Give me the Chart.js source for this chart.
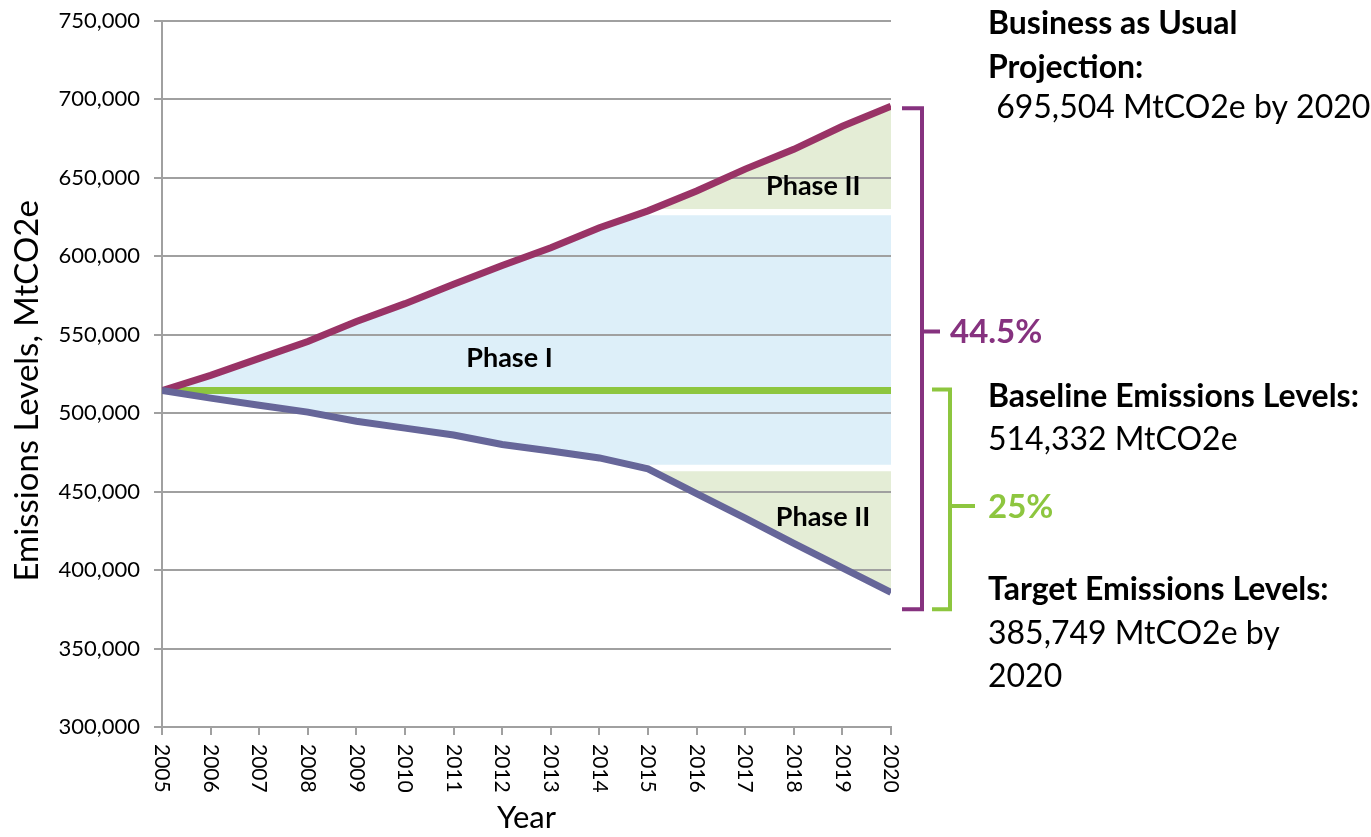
<!DOCTYPE html>
<html>
<head>
<meta charset="utf-8">
<script src="https://cdn.jsdelivr.net/npm/chart.js@4"></script>
<style>
  html, body { margin: 0; padding: 0; background: #fff; }
  #wrap { width: 1371px; height: 837px; }
</style>
</head>
<body>
<div id="wrap"><canvas id="grafico"></canvas></div>
<script>
// datos
const years = [2005, 2006, 2007, 2008, 2009, 2010, 2011, 2012, 2013, 2014, 2015, 2016, 2017, 2018, 2019, 2020];
const bau = [514332, 524000, 534800, 545600, 558300, 569700, 582000, 594000, 605300, 618000, 628800, 641500, 655400, 668000, 682700, 695504];
const target = [514332, 509500, 505000, 500600, 494800, 490400, 486000, 480000, 475800, 471400, 464400, 448700, 433000, 417000, 401300, 385749];
const baseline = [514332, 514332, 514332, 514332, 514332, 514332, 514332, 514332, 514332, 514332, 514332, 514332, 514332, 514332, 514332, 514332];
const yTicks = [300000, 350000, 400000, 450000, 500000, 550000, 600000, 650000, 700000, 750000];

// limites de las zonas Phase I / Phase II (2015-2020)
const phase2Start = 2015;
const phase1Cap = 626000;
const phase1Floor = 467000;
const phase2UpperFloor = 630000;
const phase2LowerCap = 463000;

const FONT = "Lato, 'Open Sans', sans-serif";
const GRID = "#A0A0A0";
const C_BAU = "#993366";
const C_TARGET = "#666699";
const C_BASE = "#8DC63F";
const C_BLUE = "#DDEFF9";
const C_GREEN = "#E4EDD6";
const C_PURPLE = "#86327F";

const pts = (arr) => years.map((y, i) => ({ x: y, y: arr[i] }));
const phase1Top = years.map((y, i) => ({ x: y, y: y < phase2Start ? bau[i] : phase1Cap }));
const phase1Bottom = years.map((y, i) => ({ x: y, y: y < phase2Start ? target[i] : phase1Floor }));
const p2UpTop = years.filter((y) => y >= phase2Start).map((y) => ({ x: y, y: bau[years.indexOf(y)] }));
const p2UpBase = years.filter((y) => y >= phase2Start).map((y) => ({ x: y, y: phase2UpperFloor }));
const p2LowTop = years.filter((y) => y >= phase2Start).map((y) => ({ x: y, y: phase2LowerCap }));
const p2LowBase = years.filter((y) => y >= phase2Start).map((y) => ({ x: y, y: target[years.indexOf(y)] }));

const hidden = { borderWidth: 0, pointRadius: 0, borderColor: "transparent" };

// textos y anotaciones a la derecha
const anotaciones = {
  id: "anotaciones",
  afterDraw(chart) {
    const { ctx, chartArea, scales } = chart;
    const xs = scales.x, ys = scales.y;
    ctx.save();

    // etiquetas del eje X giradas (leen de arriba hacia abajo)
    ctx.fillStyle = "#000";
    ctx.font = `21px ${FONT}`;
    ctx.textAlign = "left";
    ctx.textBaseline = "middle";
    years.forEach((yr) => {
      ctx.save();
      ctx.translate(xs.getPixelForValue(yr), chartArea.bottom + 17);
      ctx.rotate(Math.PI / 2);
      ctx.fillText(String(yr), 0, 0);
      ctx.restore();
    });

    // titulo del eje Y
    ctx.save();
    ctx.translate(27, (chartArea.top + chartArea.bottom) / 2 + 17);
    ctx.rotate(-Math.PI / 2);
    ctx.textAlign = "center";
    ctx.font = `33px ${FONT}`;
    ctx.fillText("Emissions Levels, MtCO2e", 0, 0);
    ctx.restore();

    // Phase labels
    ctx.font = `bold 27px ${FONT}`;
    ctx.textAlign = "center";
    ctx.fillText("Phase I", xs.getPixelForValue(2012.15), ys.getPixelForValue(534800));
    ctx.fillText("Phase II", xs.getPixelForValue(2018.4), ys.getPixelForValue(644700));
    ctx.fillText("Phase II", xs.getPixelForValue(2018.6), ys.getPixelForValue(433300));

    // corchetes
    const R = chartArea.right;
    const bracket = (x, armX, top, bottom, mid, tickEnd, color) => {
      ctx.strokeStyle = color;
      ctx.lineWidth = 4;
      ctx.lineCap = "butt";
      ctx.beginPath();
      ctx.moveTo(armX, top);
      ctx.lineTo(x, top);
      ctx.lineTo(x, bottom);
      ctx.lineTo(armX, bottom);
      ctx.moveTo(x, mid);
      ctx.lineTo(tickEnd, mid);
      ctx.stroke();
    };
    const bottomY = ys.getPixelForValue(375000);
    const purpleMid = ys.getPixelForValue(552000);
    const greenMid = ys.getPixelForValue(440800);
    bracket(R + 31, R + 11, ys.getPixelForValue(bau[bau.length - 1]) + 2, bottomY, purpleMid, R + 49, C_PURPLE);
    bracket(R + 59, R + 41, ys.getPixelForValue(baseline[0]) - 1, bottomY, greenMid, R + 84, C_BASE);

    ctx.textAlign = "left";
    ctx.font = `bold 33px ${FONT}`;
    ctx.fillStyle = C_PURPLE;
    ctx.fillText("44.5%", R + 59, purpleMid + 1);
    ctx.fillStyle = C_BASE;
    ctx.fillText("25%", R + 97, greenMid + 1);

    const tx = R + 97;
    const lines = [
      ["Business as Usual", true, 24],
      ["Projection:", true, 68],
      [" 695,504 MtCO2e by 2020", false, 108],
      ["Baseline Emissions Levels:", true, 397],
      ["514,332 MtCO2e", false, 440],
      ["Target Emissions Levels:", true, 590],
      ["385,749 MtCO2e by", false, 634],
      ["2020", false, 677],
    ];
    ctx.fillStyle = "#000";
    lines.forEach(([t, b, y]) => {
      ctx.font = `${b ? "bold " : ""}32px ${FONT}`;
      ctx.fillText(t, tx, y);
    });
    ctx.restore();
  },
};

const ctx = document.getElementById("grafico").getContext("2d");
new Chart(ctx, {
  type: "line",
  data: {
    datasets: [
      { label: "Target", data: pts(target), borderColor: C_TARGET, borderWidth: 7, pointRadius: 0, fill: false },
      { label: "BAU", data: pts(bau), borderColor: C_BAU, borderWidth: 7, pointRadius: 0, fill: false },
      { label: "Baseline", data: pts(baseline), borderColor: C_BASE, borderWidth: 7, pointRadius: 0, fill: false },
      { label: "p1Top", data: phase1Top, ...hidden, backgroundColor: C_BLUE, fill: { target: 4, above: C_BLUE, below: C_BLUE } },
      { label: "p1Bottom", data: phase1Bottom, ...hidden, fill: false },
      { label: "p2UpTop", data: p2UpTop, ...hidden, fill: { target: 6, above: C_GREEN, below: "rgba(0,0,0,0)" } },
      { label: "p2UpBase", data: p2UpBase, ...hidden, fill: false },
      { label: "p2LowTop", data: p2LowTop, ...hidden, fill: { target: 8, above: C_GREEN, below: "rgba(0,0,0,0)" } },
      { label: "p2LowBase", data: p2LowBase, ...hidden, fill: false },
    ],
  },
  options: {
    responsive: true,
    maintainAspectRatio: false,
    animation: false,
    layout: { autoPadding: false, padding: { top: 16, right: 480, bottom: 0, left: 0 } },
    plugins: {
      legend: { display: false },
      tooltip: { enabled: false },
      filler: { drawTime: "beforeDraw" },
    },
    elements: { line: { tension: 0 } },
    scales: {
      x: {
        type: "linear",
        min: 2005,
        max: 2020,
        ticks: { stepSize: 1, display: false },
        grid: { drawOnChartArea: false, drawTicks: true, tickLength: 8, color: GRID, lineWidth: 2 },
        border: { color: GRID, width: 2 },
        title: { display: true, text: "Year", color: "#000", font: { family: FONT, size: 31 }, padding: { top: 0, bottom: 0 } },
        afterFit: (axis) => { axis.height = 110; },
      },
      y: {
        min: 300000,
        max: 750000,
        afterBuildTicks: (axis) => { axis.ticks = yTicks.map((v) => ({ value: v })); },
        ticks: { color: "#000", font: { family: FONT, size: 22, lineHeight: 0.6 }, padding: 14 },
        grid: { color: GRID, lineWidth: 2, tickLength: 8 },
        border: { color: GRID, width: 2 },
        title: { display: false },
        afterFit: (axis) => { axis.width = 162; },
      },
    },
  },
  plugins: [anotaciones],
});
</script>
</body>
</html>
